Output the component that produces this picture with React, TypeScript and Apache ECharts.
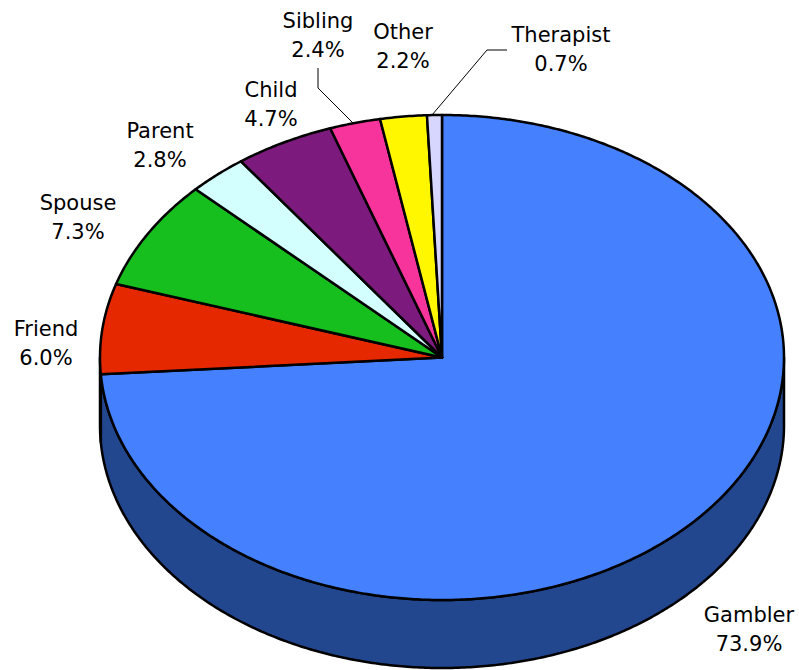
import React, { useEffect, useRef } from "react";
import * as echarts from "echarts";

// ---- Data ----
const CATEGORIES = ["Gambler", "Friend", "Spouse", "Parent", "Child", "Sibling", "Other", "Therapist"];
const VALUES = [73.9, 6.0, 7.3, 2.8, 4.7, 2.4, 2.2, 0.7];
const COLORS = ["#4580FF", "#E62800", "#16BE1E", "#D4FFFF", "#7D1A7D", "#F7349B", "#FFF700", "#D6D6FF"];
const SIDE_COLORS = ["#22478F", "#7F1600", "#0C6A11", "#768F8F", "#450E45", "#8A1C56", "#8F8A00", "#77778F"];

// ---- Layout (pixels) ----
const CX = 442;
const CY = 357.5;
const RX = 342;
const RY = 242.5;
const DEPTH = 68;
const LABEL_POS: [number, number][] = [
  [749, 629],
  [46, 343],
  [78, 217],
  [160, 145],
  [271, 104],
  [318, 35],
  [403, 46],
  [561, 49],
];
const LEADERS: ([number, number][] | null)[] = [
  null,
  null,
  null,
  null,
  null,
  [[318, 68], [318, 88], [353, 123]],
  null,
  [[507, 50], [487, 50], [432, 115]],
];

function sliceAngles() {
  const total = VALUES.reduce((a, b) => a + b, 0);
  const out: [number, number][] = [];
  let acc = 0;
  for (const v of VALUES) {
    const a1 = (acc / total) * 360;
    acc += v;
    const a2 = (acc / total) * 360;
    out.push([a1, a2]);
  }
  return out;
}

function arcPts(a1: number, a2: number, dy: number): number[][] {
  const n = Math.max(2, Math.ceil(Math.abs(a2 - a1) / 0.5));
  const pts: number[][] = [];
  for (let i = 0; i <= n; i++) {
    const t = ((a1 + ((a2 - a1) * i) / n) * Math.PI) / 180;
    pts.push([CX + RX * Math.sin(t), CY - RY * Math.cos(t) + dy]);
  }
  return pts;
}

export default function App() {
  const ref = useRef<HTMLDivElement>(null);
  useEffect(() => {
    document.body.style.margin = "0";
    if (!ref.current) return;
    const chart = echarts.init(ref.current, undefined, { renderer: "svg" });
    const angles = sliceAngles();
    const data = VALUES.map((v, i) => ({ name: CATEGORIES[i], value: [v] }));

    const sideSeries = {
      type: "custom",
      coordinateSystem: "none",
      z: 1,
      silent: true,
      data,
      renderItem: (params: any) => {
        const i = params.dataIndex;
        const [a1, a2] = angles[i];
        const s = Math.max(a1, 90);
        const e = Math.min(a2, 270);
        if (e <= s) return { type: "group", children: [] };
        const top = arcPts(s, e, 0);
        const bot = arcPts(s, e, DEPTH).reverse();
        return {
          type: "polygon",
          shape: { points: top.concat(bot) },
          style: { fill: SIDE_COLORS[i], stroke: "#000", lineWidth: 2.5, lineJoin: "round" },
        };
      },
    };

    const topSeries = {
      type: "custom",
      coordinateSystem: "none",
      z: 2,
      silent: true,
      data,
      renderItem: (params: any, api: any) => {
        const i = params.dataIndex;
        const [a1, a2] = angles[i];
        const val = api.value(0) as number;
        const children: any[] = [
          {
            type: "polygon",
            shape: { points: [[CX, CY], ...arcPts(a1, a2, 0)] },
            style: { fill: COLORS[i], stroke: "#000", lineWidth: 2.5, lineJoin: "round" },
          },
        ];
        const leader = LEADERS[i];
        if (leader) {
          children.push({
            type: "polyline",
            shape: { points: leader },
            style: { stroke: "#000", lineWidth: 1, fill: null },
          });
        }
        const [lx, ly] = LABEL_POS[i];
        children.push({
          type: "text",
          x: lx,
          y: ly,
          style: {
            text: CATEGORIES[i] + "\n" + val.toFixed(1) + "%",
            fill: "#000",
            font: "21px 'DejaVu Sans'",
            fontSize: 21,
            fontFamily: "DejaVu Sans",
            lineHeight: 29,
            align: "center",
            verticalAlign: "middle",
            textAlign: "center",
            textVerticalAlign: "middle",
          },
        });
        return { type: "group", children };
      },
    };

    chart.setOption({
      animation: false,
      backgroundColor: "#fff",
      series: [sideSeries, topSeries],
    });
    return () => chart.dispose();
  }, []);
  return <div ref={ref} style={{ width: 799, height: 670 }} />;
}
